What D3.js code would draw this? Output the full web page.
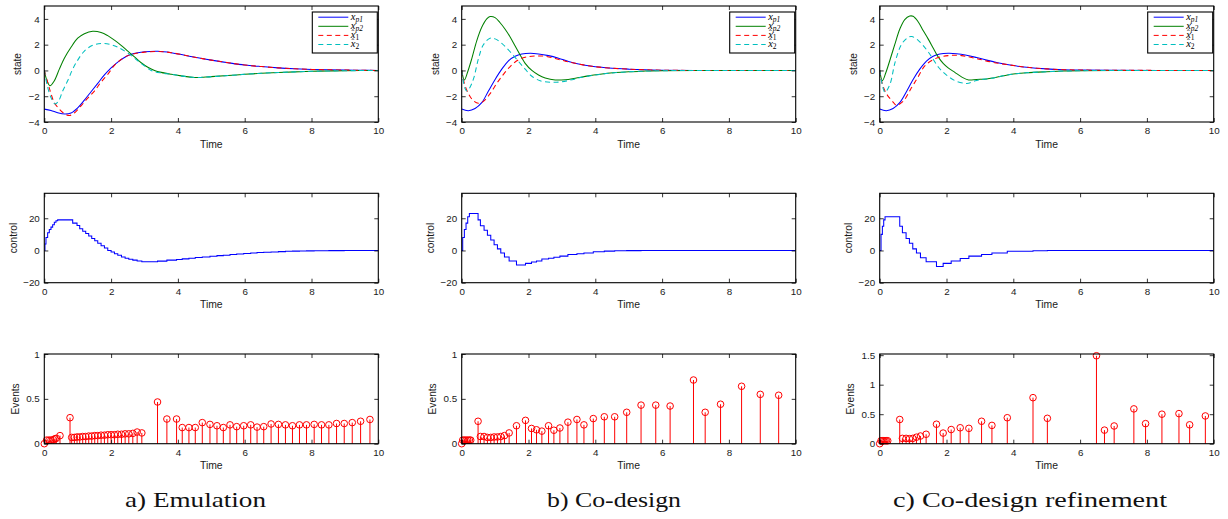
<!DOCTYPE html>
<html><head><meta charset="utf-8">
<script src="https://cdn.jsdelivr.net/npm/d3@7"></script>
<style>
html,body{margin:0;padding:0;background:#fff;}
svg{display:block;}
</style></head><body>
<svg id="fig" width="1228" height="519"></svg>
<script>
// ---------------- data ----------------
const captions = ["a) Emulation", "b) Co-design", "c) Co-design refinement"];
const timeTicks = [0, 2, 4, 6, 8, 10];
const stateTicks = [-4, -2, 0, 2, 4];
const controlTicks = [-20, 0, 20];
const eventTicksAB = [0, 0.5, 1];
const eventTicksC = [0, 0.5, 1, 1.5];
const legendNames = ["xp1", "xp2", "xh1", "xh2"];

// column a : Emulation
const xp1A = [[0,-3],[0.2,-3.1],[0.4,-3.28],[0.62,-3.38],[0.8,-3.3],[1.0,-2.9],[1.2,-2.3],[1.4,-1.65],[1.6,-1.0],[1.8,-0.35],[2.0,0.2],[2.2,0.65],[2.4,1.0],[2.6,1.25],[2.8,1.38],[3.0,1.45],[3.4,1.49],[3.8,1.38],[4.2,1.18],[4.6,0.98],[5,0.8],[5.5,0.6],[6,0.42],[6.5,0.3],[7,0.2],[7.5,0.13],[8,0.08],[8.5,0.05],[9,0.03],[9.5,0.01],[10,0]];
const xp2A = [[0,0],[0.08,-0.8],[0.17,-1.18],[0.3,-0.8],[0.45,0.1],[0.6,0.95],[0.8,1.8],[1.0,2.5],[1.2,2.85],[1.45,3.04],[1.7,2.95],[1.9,2.7],[2.1,2.35],[2.3,1.95],[2.5,1.5],[2.7,1.05],[2.9,0.6],[3.1,0.25],[3.3,0.0],[3.5,-0.15],[3.8,-0.3],[4.1,-0.42],[4.5,-0.55],[5,-0.48],[5.5,-0.4],[6,-0.3],[6.5,-0.22],[7,-0.16],[7.5,-0.11],[8,-0.07],[8.5,-0.04],[9,-0.02],[10,0]];
const xh1A = [[0,0],[0.1,-0.9],[0.2,-1.8],[0.3,-2.5],[0.45,-3.0],[0.6,-3.35],[0.75,-3.5],[0.9,-3.3],[1.1,-2.75],[1.3,-2.15],[1.5,-1.6],[1.7,-0.9],[1.9,-0.3],[2.1,0.4],[2.3,0.85],[2.5,1.15],[2.7,1.3],[3.0,1.42],[3.4,1.47],[3.8,1.38],[4.2,1.18],[4.6,0.98],[5,0.8],[5.5,0.6],[6,0.42],[6.5,0.3],[7,0.2],[7.5,0.13],[8,0.08],[8.5,0.05],[9,0.03],[9.5,0.01],[10,0]];
const xh2A = [[0,0],[0.1,-1.3],[0.2,-2.1],[0.32,-2.6],[0.42,-2.4],[0.55,-1.6],[0.7,-0.8],[0.85,0.1],[1.0,0.8],[1.2,1.5],[1.45,1.95],[1.75,2.1],[2.0,2.0],[2.2,1.8],[2.5,1.35],[2.8,0.75],[3.0,0.35],[3.2,0.0],[3.5,-0.2],[3.8,-0.3],[4.1,-0.42],[4.5,-0.55],[5,-0.48],[5.5,-0.4],[6,-0.3],[6.5,-0.22],[7,-0.16],[7.5,-0.11],[8,-0.07],[8.5,-0.04],[9,-0.02],[10,0]];
const uA = [[0,0],[0.02,4],[0.05,8],[0.1,11],[0.15,13],[0.2,14.5],[0.25,16],[0.3,17.5],[0.35,18.5],[0.4,19],[0.85,17],[0.98,15.5],[1.06,13.5],[1.15,12],[1.24,10.5],[1.33,9],[1.42,7.5],[1.51,6],[1.6,4.5],[1.7,3],[1.8,1.5],[1.9,0],[2.0,-1],[2.1,-2],[2.2,-3],[2.31,-4],[2.42,-4.8],[2.53,-5.5],[2.65,-6],[2.78,-6.5],[2.92,-7],[3.39,-6.6],[3.67,-6],[3.96,-5.6],[4.13,-5.2],[4.33,-4.8],[4.52,-4.4],[4.73,-4],[4.96,-3.6],[5.17,-3.2],[5.36,-2.9],[5.56,-2.5],[5.76,-2.2],[5.97,-1.9],[6.18,-1.6],[6.37,-1.3],[6.57,-1.1],[6.79,-0.9],[7.01,-0.7],[7.22,-0.5],[7.43,-0.4],[7.64,-0.3],[7.85,-0.25],[8.08,-0.2],[8.3,-0.15],[8.52,-0.1],[8.75,-0.08],[8.98,-0.05],[9.22,-0.03],[9.47,0],[10,0]];
const evA = [[0,0],[0.07,0.04],[0.14,0.04],[0.2,0.04],[0.27,0.045],[0.32,0.055],[0.36,0.06],[0.47,0.09],[0.77,0.29],[0.82,0.07],[0.9,0.07],[0.98,0.075],[1.06,0.075],[1.15,0.08],[1.24,0.08],[1.33,0.085],[1.42,0.085],[1.51,0.09],[1.6,0.09],[1.7,0.095],[1.8,0.095],[1.9,0.1],[2.0,0.1],[2.1,0.1],[2.2,0.105],[2.31,0.105],[2.42,0.11],[2.53,0.11],[2.65,0.115],[2.78,0.13],[2.92,0.12],[3.39,0.465],[3.67,0.275],[3.96,0.275],[4.13,0.18],[4.33,0.18],[4.52,0.18],[4.73,0.235],[4.96,0.215],[5.17,0.2],[5.36,0.18],[5.56,0.21],[5.76,0.19],[5.97,0.2],[6.18,0.21],[6.37,0.185],[6.57,0.19],[6.79,0.22],[7.01,0.215],[7.22,0.21],[7.43,0.2],[7.64,0.21],[7.85,0.21],[8.08,0.215],[8.3,0.21],[8.52,0.21],[8.75,0.225],[8.98,0.225],[9.22,0.235],[9.47,0.25],[9.75,0.27]];

// column b : Co-design
const xp1B = [[0,-3],[0.2,-3.12],[0.4,-2.95],[0.6,-2.5],[0.8,-1.6],[1.0,-0.7],[1.2,0.1],[1.4,0.75],[1.6,1.1],[1.8,1.27],[2.05,1.33],[2.3,1.28],[2.6,1.15],[2.9,0.95],[3.2,0.7],[3.5,0.5],[3.9,0.32],[4.4,0.19],[5,0.1],[5.5,0.05],[6,0.02],[7,0],[10,0]];
const xp2B = [[0,0],[0.08,-0.74],[0.18,-0.1],[0.3,0.9],[0.45,2.3],[0.6,3.35],[0.75,4.0],[0.85,4.18],[1.0,4.1],[1.15,3.7],[1.3,3.2],[1.45,2.6],[1.6,1.9],[1.75,1.2],[1.9,0.55],[2.1,0.0],[2.3,-0.35],[2.5,-0.58],[2.8,-0.74],[3.1,-0.72],[3.4,-0.6],[3.8,-0.42],[4.3,-0.24],[5,-0.1],[5.5,-0.05],[6,-0.02],[7,0],[10,0]];
const xh1B = [[0,0],[0.08,-1.0],[0.2,-1.8],[0.35,-2.35],[0.5,-2.55],[0.65,-2.4],[0.85,-1.8],[1.05,-1.0],[1.25,-0.3],[1.45,0.3],[1.65,0.75],[1.9,1.02],[2.2,1.12],[2.5,1.1],[2.8,0.93],[3.1,0.72],[3.5,0.5],[3.9,0.32],[4.4,0.19],[5,0.1],[5.5,0.05],[6,0.02],[7,0],[10,0]];
const xh2B = [[0,0],[0.1,-1.4],[0.16,-1.6],[0.25,-1.3],[0.36,-0.6],[0.5,0.9],[0.65,2.0],[0.85,2.5],[1.0,2.45],[1.2,2.1],[1.45,1.45],[1.7,0.7],[1.9,0.1],[2.1,-0.45],[2.35,-0.8],[2.7,-0.92],[3.0,-0.88],[3.3,-0.72],[3.6,-0.53],[4.0,-0.36],[4.4,-0.22],[5,-0.1],[5.5,-0.05],[6,-0.02],[7,0],[10,0]];
const uB = [[0,0],[0.03,8],[0.08,13],[0.13,17],[0.18,21],[0.23,23],[0.49,19],[0.56,15.3],[0.67,12.5],[0.77,9.5],[0.87,6.5],[0.97,3.5],[1.07,1],[1.17,-1.5],[1.28,-4],[1.42,-6.5],[1.64,-9],[1.91,-8],[2.09,-7.2],[2.24,-6.5],[2.4,-5.3],[2.6,-4.8],[2.76,-4.2],[2.94,-3.5],[3.18,-2.5],[3.45,-2],[3.66,-1.5],[3.94,-0.8],[4.27,-0.4],[4.58,-0.2],[4.94,-0.1],[5.37,0],[10,0]];
const evB = [[0,0],[0.03,0.04],[0.08,0.04],[0.13,0.04],[0.18,0.04],[0.23,0.04],[0.27,0.04],[0.49,0.25],[0.56,0.08],[0.67,0.08],[0.77,0.07],[0.87,0.07],[0.97,0.075],[1.07,0.075],[1.17,0.08],[1.28,0.09],[1.42,0.12],[1.64,0.2],[1.91,0.26],[2.09,0.17],[2.24,0.155],[2.4,0.14],[2.6,0.2],[2.76,0.15],[2.94,0.175],[3.18,0.24],[3.45,0.27],[3.66,0.21],[3.94,0.28],[4.27,0.3],[4.58,0.3],[4.94,0.35],[5.37,0.43],[5.81,0.43],[6.24,0.42],[6.94,0.71],[7.29,0.35],[7.75,0.44],[8.38,0.64],[8.94,0.55],[9.49,0.54]];

// column c : Co-design refinement
const xp1C = [[0,-3],[0.2,-3.12],[0.4,-2.95],[0.6,-2.5],[0.8,-1.65],[1.0,-0.7],[1.2,0.1],[1.4,0.72],[1.6,1.1],[1.8,1.27],[2.05,1.33],[2.3,1.3],[2.6,1.18],[2.9,1.0],[3.2,0.8],[3.5,0.62],[3.9,0.42],[4.4,0.25],[5,0.12],[5.5,0.06],[6,0.03],[7,0.01],[10,0]];
const xp2C = [[0,0],[0.08,-0.79],[0.18,-0.2],[0.3,0.75],[0.45,2.0],[0.6,3.2],[0.75,3.95],[0.9,4.22],[1.0,4.2],[1.15,3.78],[1.3,3.1],[1.45,2.45],[1.6,1.75],[1.75,1.05],[1.9,0.55],[2.05,0.2],[2.25,-0.15],[2.45,-0.5],[2.66,-0.74],[2.9,-0.7],[3.2,-0.66],[3.4,-0.58],[3.7,-0.42],[4.0,-0.28],[4.4,-0.18],[5,-0.1],[5.5,-0.05],[6,-0.02],[7,0],[10,0]];
const xh1C = [[0,0],[0.08,-1.05],[0.2,-1.8],[0.4,-2.45],[0.5,-2.7],[0.7,-2.4],[0.95,-1.35],[1.15,-0.5],[1.35,0.35],[1.65,0.9],[2.05,1.15],[2.45,1.15],[2.85,0.95],[3.35,0.65],[3.9,0.42],[4.4,0.25],[5,0.12],[5.5,0.06],[6,0.03],[7,0.01],[10,0]];
const xh2C = [[0,0],[0.11,-1.45],[0.16,-1.7],[0.31,-1.05],[0.46,0.63],[0.66,2.06],[0.86,2.58],[0.96,2.63],[1.16,2.32],[1.46,1.41],[1.76,0.25],[1.96,-0.27],[2.26,-0.8],[2.56,-1.0],[2.66,-1.0],[2.86,-0.8],[3.16,-0.66],[3.4,-0.58],[3.7,-0.42],[4.0,-0.28],[4.4,-0.18],[5,-0.1],[5.5,-0.05],[6,-0.02],[7,0],[10,0]];
const uC = [[0,0],[0.04,10],[0.08,15],[0.12,19],[0.16,21],[0.6,15],[0.68,11],[0.79,7.5],[0.89,4.5],[0.99,1],[1.1,-1.5],[1.22,-4.5],[1.39,-7],[1.7,-10],[1.9,-8],[2.14,-6.5],[2.41,-5],[2.67,-3.5],[3.05,-2.5],[3.36,-1.5],[3.82,-0.5],[4.59,-0.2],[5.02,0],[10,0]];
const evC = [[0,0],[0.04,0.05],[0.08,0.05],[0.12,0.05],[0.16,0.05],[0.2,0.05],[0.24,0.05],[0.6,0.41],[0.68,0.09],[0.79,0.09],[0.89,0.085],[0.99,0.09],[1.1,0.11],[1.22,0.13],[1.39,0.16],[1.7,0.33],[1.9,0.18],[2.14,0.24],[2.41,0.27],[2.67,0.26],[3.05,0.38],[3.36,0.31],[3.82,0.44],[4.59,0.78],[5.02,0.43],[6.49,1.49],[6.73,0.23],[7.02,0.3],[7.61,0.59],[7.96,0.34],[8.45,0.5],[8.96,0.51],[9.28,0.32],[9.75,0.47]];

// ---------------- layout / style ----------------
const svg = d3.select('#fig');
const COL_LEFT = [44.3, 461.7, 879.7];
const PW = 334;
const ROWS = [[6, 122], [193.3, 282.7], [354, 443.7]];
const CAP_CENTER = [195.5, 614, 1030];
const CAP_WIDTH = [141, 134, 274];
const SANS = '"Liberation Sans", Arial, Helvetica, sans-serif';
const SERIF = '"Liberation Serif", "Times New Roman", serif';
const C_BLUE = '#0000ff', C_GREEN = '#008000', C_RED = '#ff0000', C_CYAN = '#00bfbf';
const DASH = '5,3.5';
const tickFmt = d => String(d).replace('-', '\u2212');

const columns = [
  {states: [xp1A, xp2A, xh1A, xh2A], u: uA, ev: evA, evTicks: eventTicksAB, evMax: 1},
  {states: [xp1B, xp2B, xh1B, xh2B], u: uB, ev: evB, evTicks: eventTicksAB, evMax: 1},
  {states: [xp1C, xp2C, xh1C, xh2C], u: uC, ev: evC, evTicks: eventTicksC, evMax: 1.52}
];
const seriesStyle = [
  {color: C_BLUE, dash: null},
  {color: C_GREEN, dash: null},
  {color: C_RED, dash: DASH},
  {color: C_CYAN, dash: DASH}
];

let clipId = 0;
function makePanel(ci, ri, yDomain, yTicks, yLabel, yLabelOff) {
  const left = COL_LEFT[ci];
  const [top, bottom] = ROWS[ri];
  const h = bottom - top;
  const g = svg.append('g').attr('transform', `translate(${left},${top})`);
  const x = d3.scaleLinear().domain([0, 10]).range([0, PW]);
  const y = d3.scaleLinear().domain(yDomain).range([h, 0]);
  const id = 'clip' + (clipId++);
  g.append('clipPath').attr('id', id).append('rect').attr('width', PW).attr('height', h);
  const plot = g.append('g').attr('clip-path', `url(#${id})`);
  const marks = g.append('g');
  const axes = g.append('g');

  const styleAxis = s => {
    s.select('.domain').remove();
    s.attr('font-family', SANS).attr('font-size', 9.8);
    s.selectAll('line').attr('stroke', '#000').attr('stroke-width', 0.8);
    s.selectAll('text').attr('fill', '#1a1a1a');
  };
  axes.append('g').attr('transform', `translate(0,${h})`)
    .call(d3.axisBottom(x).tickValues(timeTicks).tickSizeInner(-4).tickSizeOuter(0).tickPadding(5.5).tickFormat(tickFmt))
    .call(styleAxis);
  axes.append('g')
    .call(d3.axisTop(x).tickValues(timeTicks).tickSizeInner(-4).tickSizeOuter(0).tickFormat(''))
    .call(styleAxis);
  axes.append('g')
    .call(d3.axisLeft(y).tickValues(yTicks).tickSizeInner(-4).tickSizeOuter(0).tickPadding(4.5).tickFormat(tickFmt))
    .call(styleAxis);
  axes.append('g').attr('transform', `translate(${PW},0)`)
    .call(d3.axisRight(y).tickValues(yTicks).tickSizeInner(-4).tickSizeOuter(0).tickFormat(''))
    .call(styleAxis);
  axes.append('rect').attr('width', PW).attr('height', h)
    .attr('fill', 'none').attr('stroke', '#000').attr('stroke-width', 1.1);

  // axis labels
  g.append('text').attr('x', PW / 2).attr('y', h + 25.5)
    .attr('text-anchor', 'middle').attr('font-family', SANS).attr('font-size', 10.4)
    .attr('fill', '#1a1a1a').text('Time');
  g.append('text').attr('transform', `translate(${-yLabelOff},${h / 2}) rotate(-90)`)
    .attr('text-anchor', 'middle').attr('dy', '0.35em')
    .attr('font-family', SANS).attr('font-size', 10.2).attr('fill', '#1a1a1a').text(yLabel);
  return {g, plot, marks, x, y, h};
}

function drawLegend(g) {
  const lx = PW - 66, ly = 6, lw = 65, lh = 41;
  const L = g.append('g').attr('transform', `translate(${lx},${ly})`);
  L.append('rect').attr('width', lw).attr('height', lh).attr('fill', '#fff')
    .attr('stroke', '#000').attr('stroke-width', 1.1);
  legendNames.forEach((name, i) => {
    const yy = 5.2 + i * 9.1;
    const st = seriesStyle[i];
    L.append('line').attr('x1', 6).attr('x2', 36).attr('y1', yy).attr('y2', yy)
      .attr('stroke', st.color).attr('stroke-width', 1)
      .attr('stroke-dasharray', st.dash);
    const isHat = name.startsWith('xh');
    const t = L.append('text').attr('x', 38.5).attr('y', yy + 2.4)
      .attr('font-family', SERIF).attr('font-size', 10.5).attr('font-style', 'italic').attr('fill', '#000');
    t.append('tspan').text('x');
    t.append('tspan').attr('dy', 2.2).attr('font-size', 7.5)
      .attr('font-style', isHat ? 'normal' : 'italic')
      .text(isHat ? name.slice(2) : ('p' + name.slice(2)));
    if (isHat) {
      L.append('text').attr('x', 40.6).attr('y', yy + 0.2)
        .attr('font-family', SERIF).attr('font-size', 8).attr('text-anchor', 'middle')
        .attr('fill', '#000').text('\u02C6');
    }
  });
}

columns.forEach((col, ci) => {
  // --- state panel ---
  const p1 = makePanel(ci, 0, [-4, 5], stateTicks, 'state', 26.5);
  const line = d3.line().x(d => p1.x(d[0])).y(d => p1.y(d[1])).curve(d3.curveCatmullRom.alpha(0.5));
  col.states.forEach((s, i) => {
    p1.plot.append('path').datum(s).attr('d', line)
      .attr('fill', 'none').attr('stroke', seriesStyle[i].color).attr('stroke-width', 1.05)
      .attr('stroke-dasharray', seriesStyle[i].dash);
  });
  drawLegend(p1.g);

  // --- control panel ---
  const p2 = makePanel(ci, 1, [-20, 35.5], controlTicks, 'control', 31.3);
  const step = d3.line().x(d => p2.x(d[0])).y(d => p2.y(d[1])).curve(d3.curveStepAfter);
  p2.plot.append('path').datum(col.u).attr('d', step)
    .attr('fill', 'none').attr('stroke', C_BLUE).attr('stroke-width', 1.05);

  // --- events panel ---
  const p3 = makePanel(ci, 2, [0, col.evMax], col.evTicks, 'Events', 29.3);
  p3.marks.selectAll('line.stem').data(col.ev).join('line').attr('class', 'stem')
    .attr('x1', d => p3.x(d[0])).attr('x2', d => p3.x(d[0]))
    .attr('y1', p3.y(0)).attr('y2', d => p3.y(d[1]))
    .attr('stroke', C_RED).attr('stroke-width', 1);
  p3.marks.selectAll('circle').data(col.ev).join('circle')
    .attr('cx', d => p3.x(d[0])).attr('cy', d => p3.y(d[1])).attr('r', 3.3)
    .attr('fill', 'none').attr('stroke', C_RED).attr('stroke-width', 1);

  // caption
  svg.append('text').attr('x', CAP_CENTER[ci]).attr('y', 507)
    .attr('text-anchor', 'middle').attr('font-family', SERIF).attr('font-size', 22)
    .attr('textLength', CAP_WIDTH[ci]).attr('lengthAdjust', 'spacingAndGlyphs')
    .attr('fill', '#111').text(captions[ci]);
});
</script>
</body></html>
